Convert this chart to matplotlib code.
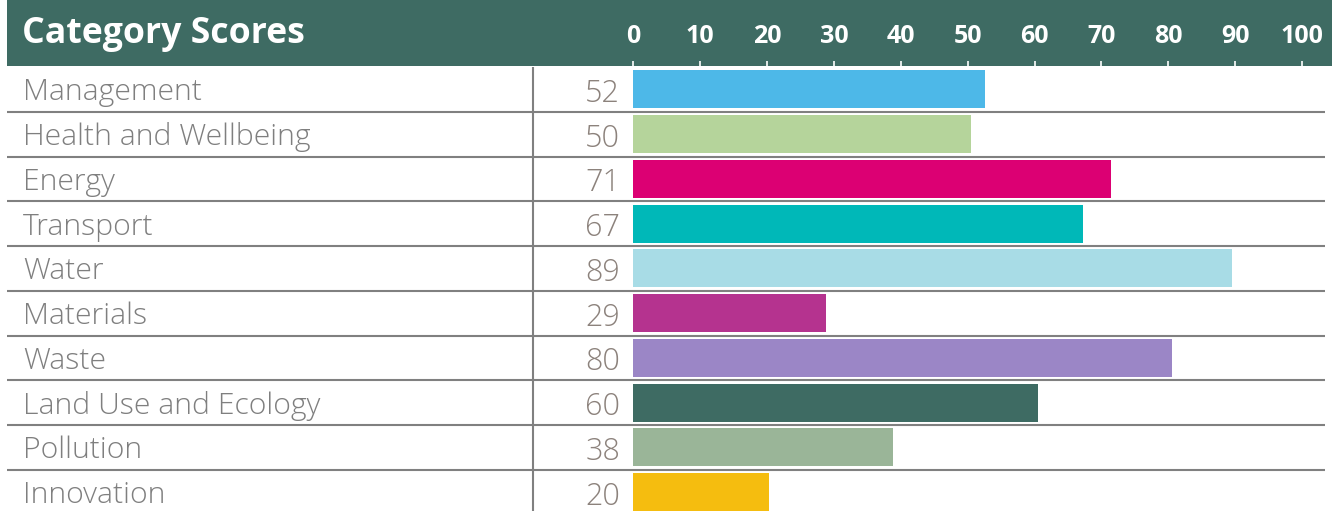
import matplotlib.pyplot as plt
from matplotlib.patches import Rectangle

categories = ['Management', 'Health and Wellbeing', 'Energy', 'Transport', 'Water',
              'Materials', 'Waste', 'Land Use and Ecology', 'Pollution', 'Innovation']
score_labels = [52, 50, 71, 67, 89, 29, 80, 60, 38, 20]
# bar lengths as drawn (scores before rounding)
scores = [52.6, 50.5, 71.4, 67.2, 89.5, 28.8, 80.5, 60.5, 38.8, 20.3]
colors = ['#4db8e8', '#b5d49b', '#dc0073', '#00b8b8', '#a8dce6',
          '#b5338f', '#9b86c6', '#3e6b63', '#9ab598', '#f5bd0f']
ticks = list(range(0, 101, 10))

W, H = 1341, 511
header_col = '#3e6b63'
grid_col = '#808080'

plt.rcParams['font.family'] = ['Open Sans', 'DejaVu Sans']

fig = plt.figure(figsize=(W / 100, H / 100), dpi=100)

# header band
fig.add_artist(Rectangle((7 / W, (H - 66) / H), 1325 / W, 66 / H,
                         transform=fig.transFigure, facecolor=header_col,
                         edgecolor='none', zorder=-1))
fig.text(22 / W, (H - 43) / H, 'Category Scores', color='white',
         fontsize=25.7, fontweight='bold', va='baseline')

# pixel layout: 0 at x=633.3, 6.687 px per unit, rows of 44.75 px from y=67
px0, ppu, row_h = 633.3, 6.687, 44.75
ax = fig.add_axes([7 / W, 0, 1325 / W, (H - 67) / H])
ax.set_xlim((7 - px0) / ppu, (1332 - px0) / ppu)
ax.set_ylim(-0.5 + (H - 67) / row_h, -0.5)
ax.patch.set_alpha(0)
for s in ax.spines.values():
    s.set_visible(False)

y = list(range(len(categories)))
ax.barh(y, scores, height=0.845, color=colors, zorder=2)

# row separators and the vertical divider
ax.hlines([i + 0.5 for i in y[:-1]], (7 - px0) / ppu, (1325 - px0) / ppu,
          color=grid_col, lw=1.5, zorder=1)
ax.vlines((532.7 - px0) / ppu, -0.5, 10, color=grid_col, lw=1.5, zorder=1)

for i, (cat, lab) in enumerate(zip(categories, score_labels)):
    ax.text((23 - px0) / ppu, i + 11 / row_h, cat, ha='left', va='baseline',
            fontsize=21.7, color='#7f7f7f', fontweight='light')
    ax.text((620 - px0) / ppu, i + 12.5 / row_h, str(lab), ha='right',
            va='baseline', fontsize=22, color='#8c827c', fontweight='light')

ax.set_yticks([])
ax.xaxis.tick_top()
ax.set_xticks(ticks)
ax.set_xticklabels([str(t) for t in ticks], fontweight='bold')
ax.tick_params(axis='x', top=True, bottom=False, direction='out', length=4.3,
               width=1.2, color='white', labelcolor='white', labelsize=18, pad=8.5)

fig.savefig('out.png', dpi=100)
